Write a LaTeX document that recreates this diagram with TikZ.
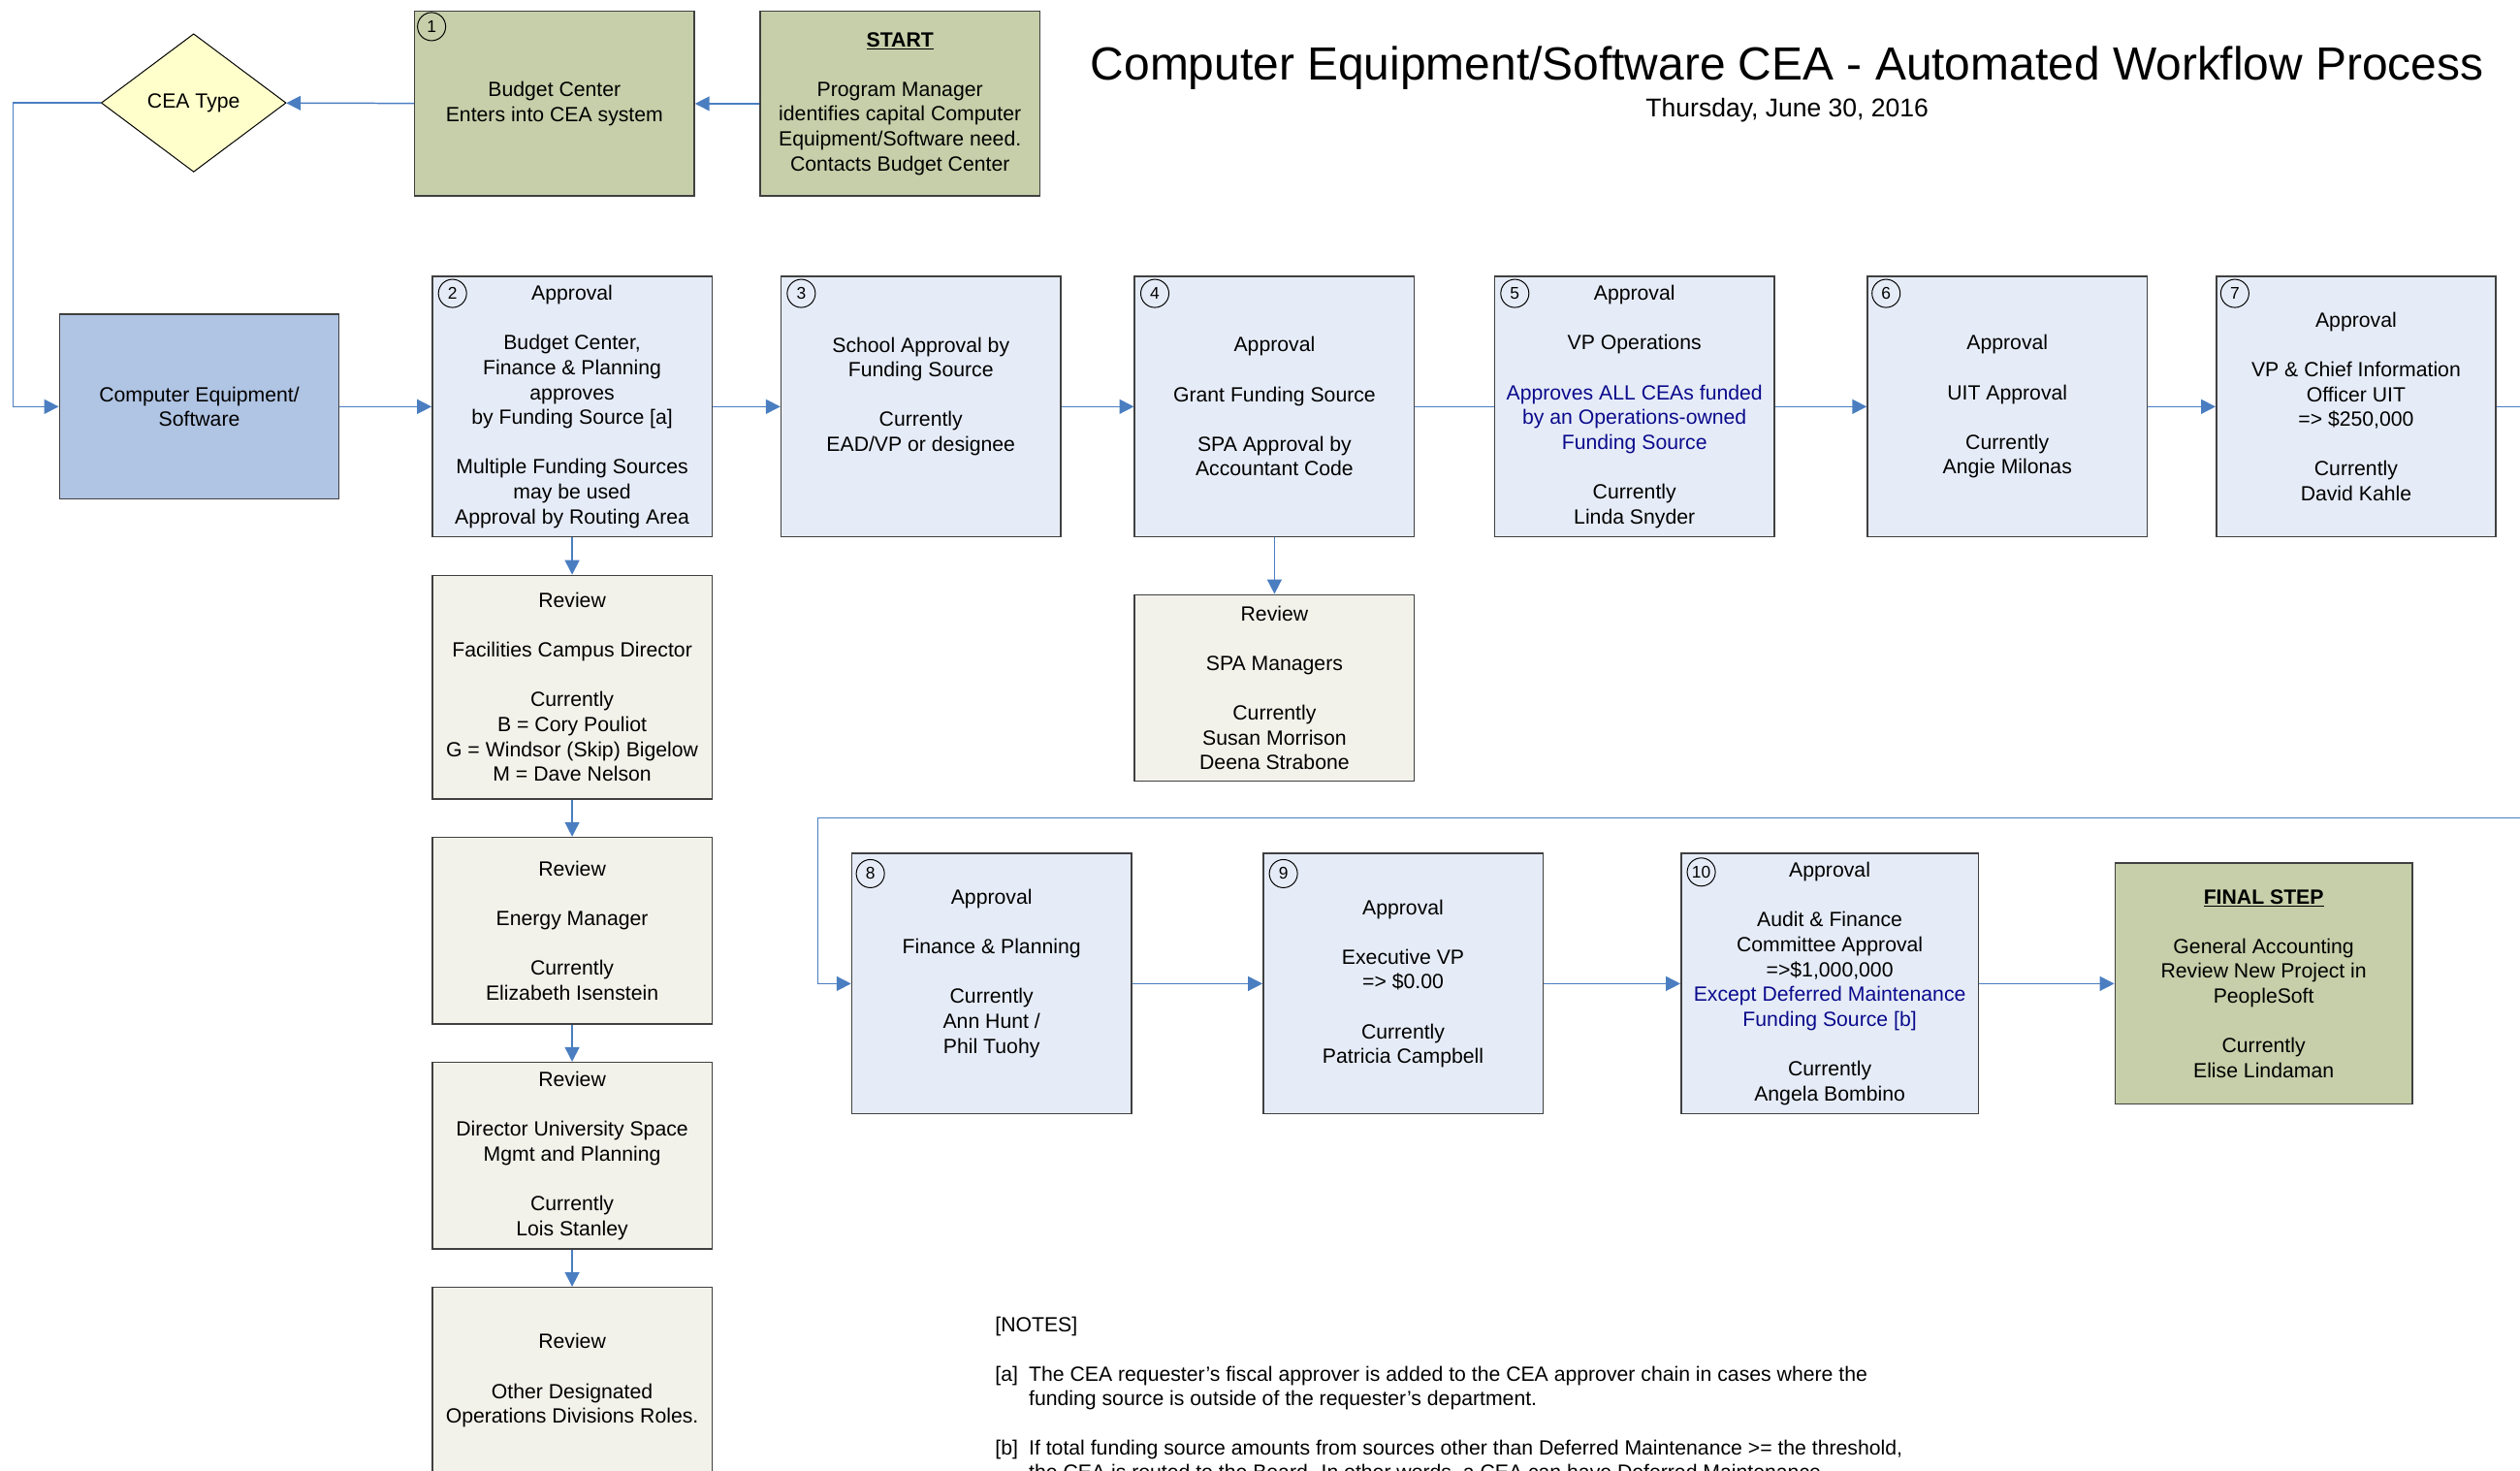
\documentclass[tikz,border=0pt]{standalone}
\usepackage{fontspec}
\setmainfont{Liberation Sans}
\usetikzlibrary{arrows.meta}
\usetikzlibrary{shapes.geometric}

\definecolor{olivebox}{RGB}{198,207,169}
\definecolor{paleblue}{RGB}{230,236,247}
\definecolor{palegray}{RGB}{242,242,234}
\definecolor{compblue}{RGB}{176,196,227}
\definecolor{paleyellow}{RGB}{255,255,204}
\definecolor{flowblue}{RGB}{74,126,193}
\definecolor{fundnavy}{RGB}{10,10,140}
\definecolor{boxline}{RGB}{64,64,64}

\newcommand{\skipln}{\\[15.45pt]}
\newcommand{\fund}[1]{\textcolor{fundnavy}{#1}}

\begin{document}
\begin{tikzpicture}[x=1pt, y=-1pt]
			\tikzset{box/.style = {shape=rectangle, draw=boxline, line width=0.9pt, align=center, inner sep=0pt, font=\fontsize{12.8pt}{15.45pt}\selectfont}}
			\tikzset{stage/.style = {box, fill=paleblue, minimum width=174pt, minimum height=162pt}}
			\tikzset{review/.style = {box, fill=palegray, minimum width=174pt, minimum height=116pt}}
			\tikzset{num/.style = {shape=circle, draw=black, line width=0.6pt, inner sep=0pt, minimum size=17.5pt, font=\fontsize{10.5pt}{12pt}\selectfont}}
			\tikzset{decision/.style = {shape=diamond, draw=black, line width=0.6pt, fill=paleyellow, minimum width=115pt, minimum height=86pt, inner sep=0pt, font=\fontsize{12.8pt}{15.45pt}\selectfont}}
			\tikzset{note/.style = {anchor=base west, inner sep=0pt, font=\fontsize{12.8pt}{15.45pt}\selectfont}}
			\tikzset{edge/.style = {->, > = {Triangle[length=9pt, width=9pt]}, draw=flowblue, line width=0.9pt}}
			\tikzset{link/.style = {draw=flowblue, line width=0.9pt}}
			\useasboundingbox (0,0) rectangle (1568,915);
			% title
			\node[anchor=base, inner sep=0pt, font=\fontsize{28.9pt}{34pt}\selectfont] (title) at (1112,49.5) {Computer Equipment/Software CEA - Automated Workflow Process};
			\node[anchor=base, inner sep=0pt, font=\fontsize{16pt}{19pt}\selectfont] (date) at (1112,72.5) {Thursday, June 30, 2016};
			% top row
			\node[box, fill=olivebox, minimum width=174pt, minimum height=115pt] (start) at (560,64.5) {\underline{\textbf{START}}\skipln Program Manager\\identifies capital Computer\\Equipment/Software need.\\Contacts Budget Center};
			\node[box, fill=olivebox, minimum width=174pt, minimum height=115pt] (b1) at (345,64.5) {Budget Center\\Enters into CEA system};
			\node[decision] (type) at (120.5,64) {CEA Type};
			\node[box, fill=compblue, minimum width=174pt, minimum height=115pt] (comp) at (124,253) {Computer Equipment/\\Software};
			% approval row
			\node[stage] (s2) at (356,253) {Approval\skipln Budget Center,\\Finance \& Planning\\approves\\by Funding Source [a]\skipln Multiple Funding Sources\\may be used\\Approval by Routing Area};
			\node[stage] (s3) at (573,253) {School Approval by\\Funding Source\skipln Currently\\EAD/VP or designee\\~};
			\node[stage] (s4) at (793,253) {Approval\skipln Grant Funding Source\skipln SPA Approval by\\Accountant Code};
			\node[stage] (s5) at (1017,253) {Approval\skipln VP Operations\skipln \fund{Approves ALL CEAs funded}\\\fund{by an Operations-owned}\\\fund{Funding Source}\skipln Currently\\Linda Snyder};
			\node[stage] (s6) at (1249,253) {Approval\skipln UIT Approval\skipln Currently\\Angie Milonas};
			\node[stage] (s7) at (1466,253) {Approval\skipln VP \& Chief Information\\Officer UIT\\=> \$250,000\skipln Currently\\David Kahle};
			% reviews
			\node[review, minimum height=139pt] (fac) at (356,427.5) {Review\skipln Facilities Campus Director\skipln Currently\\B = Cory Pouliot\\G = Windsor (Skip) Bigelow\\M = Dave Nelson};
			\node[review] (energy) at (356,579) {Review\skipln Energy Manager\skipln Currently\\Elizabeth Isenstein};
			\node[review] (space) at (356,719) {Review\skipln Director University Space\\Mgmt and Planning\skipln Currently\\Lois Stanley};
			\node[review] (other) at (356,859) {Review\skipln Other Designated\\Operations Divisions Roles.};
			\node[review] (spa) at (793,428) {Review\skipln SPA Managers\skipln Currently\\Susan Morrison\\Deena Strabone};
			% last row
			\node[stage] (s8) at (617,612) {Approval\skipln Finance \& Planning\skipln Currently\\Ann Hunt /\\Phil Tuohy\\~};
			\node[stage] (s9) at (873,612) {Approval\skipln Executive VP\\=> \$0.00\skipln Currently\\Patricia Campbell};
			\node[stage, minimum width=185pt] (s10) at (1138.5,612) {Approval\skipln Audit \& Finance\\Committee Approval\\=>\$1,000,000\\\fund{Except Deferred Maintenance}\\\fund{Funding Source [b]}\skipln Currently\\Angela Bombino};
			\node[box, fill=olivebox, minimum width=185pt, minimum height=150pt] (final) at (1408.5,612) {\underline{\textbf{FINAL STEP}}\skipln General Accounting\\Review New Project in\\PeopleSoft\skipln Currently\\Elise Lindaman};
			% step numbers
			\node[num] (n1) at ([shift={(11pt,-10pt)}]b1.north west) {1};
			\node[num] (n2) at ([shift={(13pt,-11pt)}]s2.north west) {2};
			\node[num] (n3) at ([shift={(13pt,-11pt)}]s3.north west) {3};
			\node[num] (n4) at ([shift={(13pt,-11pt)}]s4.north west) {4};
			\node[num] (n5) at ([shift={(13pt,-11pt)}]s5.north west) {5};
			\node[num] (n6) at ([shift={(12pt,-11pt)}]s6.north west) {6};
			\node[num] (n7) at ([shift={(12pt,-11pt)}]s7.north west) {7};
			\node[num] (n8) at ([shift={(12pt,-13pt)}]s8.north west) {8};
			\node[num] (n9) at ([shift={(13pt,-13pt)}]s9.north west) {9};
			\node[num] (n10) at ([shift={(13pt,-12pt)}]s10.north west) {10};
			% notes
			\node[note] (notes) at (619,828.5) {[NOTES]};
			\node[note] (ka) at (619,859.5) {[a]};
			\node[note] (na1) at (640,859.5) {The CEA requester’s fiscal approver is added to the CEA approver chain in cases where the};
			\node[note] (na2) at (640,874.5) {funding source is outside of the requester’s department.};
			\node[note] (kb) at (619,905.5) {[b]};
			\node[note] (nb1) at (640,905.5) {If total funding source amounts from sources other than Deferred Maintenance >= the threshold,};
			\node[note] (nb2) at (640,920.5) {the CEA is routed to the Board. In other words, a CEA can have Deferred Maintenance};
			% bends
			\coordinate (bendL) at (8,64);
			\coordinate (exit7) at (1580,253);
			\coordinate (entry8) at (1580,509);
			\coordinate (bend8) at (509,509);
			% edges
			\draw[edge] (start) -- (b1);
			\draw[edge] (b1) -- (type);
			\draw[edge] (type) -- (bendL) |- (comp);
			\draw[edge] (comp) -- (s2);
			\draw[edge] (s2) -- (s3);
			\draw[edge] (s3) -- (s4);
			\draw[link] (s4) -- (s5);
			\draw[edge] (s5) -- (s6);
			\draw[edge] (s6) -- (s7);
			\draw[link] (s7) -- (exit7);
			\draw[edge] (s2) -- (fac);
			\draw[edge] (fac) -- (energy);
			\draw[edge] (energy) -- (space);
			\draw[edge] (space) -- (other);
			\draw[edge] (s4) -- (spa);
			\draw[edge] (entry8) -- (bend8) |- (s8);
			\draw[edge] (s8) -- (s9);
			\draw[edge] (s9) -- (s10);
			\draw[edge] (s10) -- (final);
		\end{tikzpicture}
\end{document}
